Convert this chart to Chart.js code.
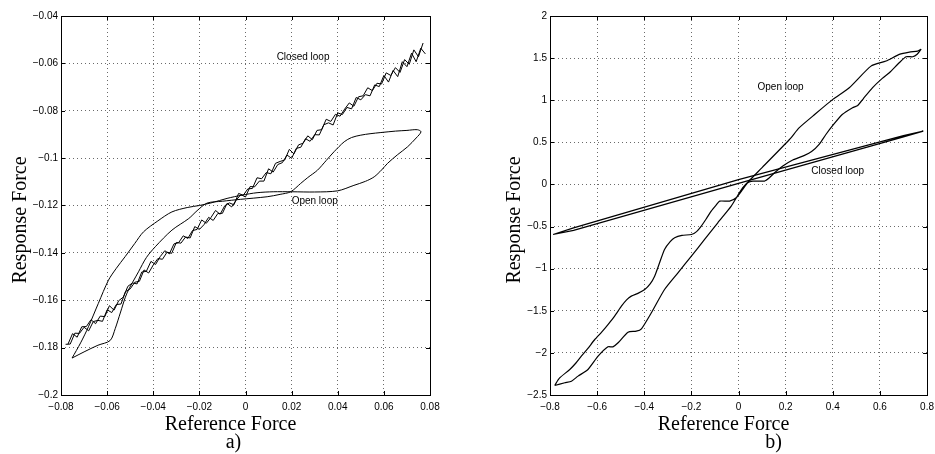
<!DOCTYPE html>
<html><head><meta charset="utf-8">
<script src="https://cdn.jsdelivr.net/npm/chart.js@4.4.1/dist/chart.umd.min.js"></script>
<style>
html,body{margin:0;padding:0;background:#fff;overflow:hidden;width:935px;height:454px;}
canvas{position:absolute;top:0;}
#ca{left:0;} #cb{left:470px;}
</style></head>
<body>
<canvas id="ca" width="470" height="454"></canvas>
<canvas id="cb" width="470" height="454"></canvas>
<script>
// ---------- panel a) ----------
const xTicksA = [-0.08,-0.06,-0.04,-0.02,0,0.02,0.04,0.06,0.08];
const xTickLabelsA = ['\u22120.08','\u22120.06','\u22120.04','\u22120.02','0','0.02','0.04','0.06','0.08'];
const yTicksA = [-0.2,-0.18,-0.16,-0.14,-0.12,-0.1,-0.08,-0.06,-0.04];
const yTickLabelsA = ['\u22120.2','\u22120.18','\u22120.16','\u22120.14','\u22120.12','\u22120.1','\u22120.08','\u22120.06','\u22120.04'];

const closedFwdX = [-0.078,-0.076,-0.074,-0.072,-0.070,-0.068,-0.066,-0.064,-0.062,-0.060,
-0.058,-0.056,-0.054,-0.052,-0.050,-0.048,-0.046,-0.044,-0.042,-0.040,
-0.038,-0.036,-0.034,-0.032,-0.030,-0.028,-0.026,-0.024,-0.022,-0.020,
-0.018,-0.016,-0.014,-0.012,-0.010,-0.008,-0.006,-0.004,-0.002,0.000,
0.002,0.004,0.006,0.008,0.010,0.012,0.014,0.016,0.018,0.020,
0.022,0.024,0.026,0.028,0.030,0.032,0.034,0.036,0.038,0.040,
0.042,0.044,0.046,0.048,0.050,0.052,0.054,0.056,0.058,0.060,
0.062,0.064,0.066,0.068,0.070,0.072,0.074,0.076,0.078];
const closedFwdY = [-0.1786,-0.1785,-0.1739,-0.1740,-0.1714,-0.1729,-0.1690,-0.1685,-0.1689,-0.1640,
-0.1652,-0.1618,-0.1616,-0.1563,-0.1552,-0.1524,-0.1520,-0.1472,-0.1485,-0.1451,
-0.1424,-0.1427,-0.1397,-0.1402,-0.1356,-0.1359,-0.1333,-0.1337,-0.1289,-0.1301,
-0.1281,-0.1250,-0.1263,-0.1234,-0.1233,-0.1191,-0.1206,-0.1177,-0.1154,-0.1164,
-0.1120,-0.1121,-0.1097,-0.1097,-0.1045,-0.1059,-0.1027,-0.1019,-0.0987,-0.1001,
-0.0959,-0.0954,-0.0918,-0.0929,-0.0901,-0.0902,-0.0859,-0.0851,-0.0860,-0.0809,
-0.0816,-0.0786,-0.0792,-0.0744,-0.0754,-0.0732,-0.0737,-0.0691,-0.0698,-0.0651,
-0.0679,-0.0630,-0.0656,-0.0593,-0.0614,-0.0557,-0.0593,-0.0536,-0.0560];
const closedBackX = [0.077,0.075,0.073,0.071,0.069,0.067,0.065,0.063,0.061,0.059,
0.057,0.055,0.053,0.051,0.049,0.047,0.045,0.043,0.041,0.039,
0.037,0.035,0.033,0.031,0.029,0.027,0.025,0.023,0.021,0.019,
0.017,0.015,0.013,0.011,0.009,0.007,0.005,0.003,0.001,-0.001,
-0.003,-0.005,-0.007,-0.009,-0.011,-0.013,-0.015,-0.017,-0.019,-0.021,
-0.023,-0.025,-0.027,-0.029,-0.031,-0.033,-0.035,-0.037,-0.039,-0.041,
-0.043,-0.045,-0.047,-0.049,-0.051,-0.053,-0.055,-0.057,-0.059,-0.061,
-0.063,-0.065,-0.067,-0.069,-0.071,-0.073,-0.075,-0.077];
const closedBackY = [-0.0514,-0.0572,-0.0543,-0.0604,-0.0584,-0.0638,-0.0618,-0.0651,-0.0640,-0.0687,
-0.0684,-0.0715,-0.0703,-0.0737,-0.0741,-0.0781,-0.0767,-0.0793,-0.0823,-0.0815,
-0.0845,-0.0836,-0.0880,-0.0883,-0.0922,-0.0906,-0.0937,-0.0944,-0.0982,-0.0963,
-0.1008,-0.1014,-0.1022,-0.1066,-0.1061,-0.1087,-0.1083,-0.1128,-0.1130,-0.1157,
-0.1149,-0.1197,-0.1189,-0.1201,-0.1237,-0.1221,-0.1251,-0.1275,-0.1261,-0.1301,
-0.1306,-0.1339,-0.1328,-0.1357,-0.1362,-0.1404,-0.1391,-0.1416,-0.1449,-0.1436,
-0.1478,-0.1481,-0.1531,-0.1527,-0.1541,-0.1587,-0.1602,-0.1642,-0.1623,-0.1669,
-0.1667,-0.1699,-0.1682,-0.1711,-0.1712,-0.1756,-0.1741,-0.1786];

const openAX = [-0.0752,-0.0715,-0.0681,-0.0638,-0.0594,-0.0560,-0.0522,-0.0480,-0.0442,-0.0380,
-0.0319,-0.0250,-0.0200,-0.0145,-0.0080,-0.0014,0.0050,0.0120,0.0200,0.0300,
0.0400,0.0470,0.0520,0.0558,0.0590,0.0616,0.0660,0.0703,0.0740,0.0761,
0.0745,0.0700,0.0650,0.0587,0.0540,0.0500,0.0460,0.0428,0.0384,0.0350,
0.0312,0.0270,0.0239,0.0196,0.0150,0.0094,-0.0022,-0.0100,-0.0167,-0.0210,
-0.0246,-0.0319,-0.0391,-0.0430,-0.0464,-0.0514,-0.0543,-0.0565,-0.0587,-0.0640,
-0.0700,-0.0752];
const openAY = [-0.1844,-0.1780,-0.1712,-0.1613,-0.1515,-0.1465,-0.1416,-0.1360,-0.1311,-0.1265,
-0.1227,-0.1208,-0.1200,-0.1188,-0.1170,-0.1156,-0.1146,-0.1142,-0.1142,-0.1143,
-0.1138,-0.1115,-0.1098,-0.1079,-0.1050,-0.1022,-0.0985,-0.0952,-0.0915,-0.0889,
-0.0880,-0.0883,-0.0886,-0.0892,-0.0897,-0.0903,-0.0913,-0.0931,-0.0973,-0.1010,
-0.1051,-0.1082,-0.1107,-0.1142,-0.1153,-0.1163,-0.1174,-0.1182,-0.1190,-0.1222,
-0.1255,-0.1304,-0.1374,-0.1420,-0.1480,-0.1570,-0.1654,-0.1720,-0.1770,-0.1790,
-0.1818,-0.1844];

// ---------- panel b) ----------
const xTicksB = [-0.8,-0.6,-0.4,-0.2,0,0.2,0.4,0.6,0.8];
const xTickLabelsB = ['\u22120.8','\u22120.6','\u22120.4','\u22120.2','0','0.2','0.4','0.6','0.8'];
const yTicksB = [-2.5,-2,-1.5,-1,-0.5,0,0.5,1,1.5,2];
const yTickLabelsB = ['\u22122.5','\u22122','\u22121.5','\u22121','\u22120.5','0','0.5','1','1.5','2'];

const closedBX = [-0.787,-0.700,0.000,0.700,0.784,0.700,0.000,-0.700,-0.787];
const closedBY = [-0.594,-0.545,0.012,0.565,0.633,0.580,0.058,-0.515,-0.594];

const openBX = [-0.780,-0.760,-0.716,-0.690,-0.667,-0.640,-0.610,-0.580,-0.554,-0.525,
-0.497,-0.475,-0.455,-0.425,-0.398,-0.375,-0.356,-0.335,-0.314,-0.290,
-0.271,-0.240,-0.200,-0.178,-0.158,-0.135,-0.116,-0.095,-0.080,-0.038,
-0.010,0.018,0.039,0.061,0.110,0.131,0.153,0.188,0.230,0.280,
0.310,0.343,0.370,0.400,0.440,0.484,0.506,0.530,0.569,0.610,
0.640,0.682,0.711,0.739,0.758,0.774,
0.760,0.725,0.682,0.626,0.562,0.470,0.400,0.315,0.258,0.216,
0.100,0.018,-0.031,-0.088,-0.144,-0.200,-0.257,-0.314,-0.370,-0.412,
-0.434,-0.469,-0.511,-0.533,-0.554,-0.596,-0.639,-0.681,-0.709,-0.737,
-0.780];
const openBY = [-2.387,-2.300,-2.197,-2.120,-2.039,-1.950,-1.841,-1.750,-1.663,-1.560,
-1.445,-1.370,-1.326,-1.290,-1.247,-1.180,-1.089,-0.930,-0.772,-0.680,
-0.633,-0.605,-0.594,-0.560,-0.495,-0.400,-0.317,-0.245,-0.198,-0.198,
-0.158,-0.059,0.020,0.040,0.040,0.079,0.139,0.218,0.290,0.345,
0.390,0.480,0.590,0.700,0.830,0.911,0.938,1.020,1.150,1.260,
1.326,1.445,1.516,1.516,1.545,1.603,
1.583,1.572,1.544,1.465,1.405,1.148,1.010,0.811,0.674,0.534,
0.200,-0.039,-0.258,-0.455,-0.653,-0.851,-1.049,-1.247,-1.524,-1.714,
-1.742,-1.754,-1.880,-1.928,-1.928,-2.039,-2.197,-2.276,-2.336,-2.355,
-2.387];

const zip = (xs, ys) => xs.map((x, i) => ({x, y: ys[i]}));

const deco = {
  id: 'deco',
  afterDraw(chart, args, o) {
    const ctx = chart.ctx, a = chart.chartArea, xs = chart.scales.x, ys = chart.scales.y;
    ctx.save();
    ctx.strokeStyle = '#000'; ctx.lineWidth = 1;
    ctx.strokeRect(Math.round(a.left) + 0.5, Math.round(a.top) + 0.5, Math.round(a.right - a.left), Math.round(a.bottom - a.top));
    ctx.beginPath();
    o.xt.forEach(v => {
      const p = Math.round(xs.getPixelForValue(v)) + 0.5;
      ctx.moveTo(p, a.bottom); ctx.lineTo(p, a.bottom - 4);
      ctx.moveTo(p, a.top); ctx.lineTo(p, a.top + 4);
    });
    o.yt.forEach(v => {
      const p = Math.round(ys.getPixelForValue(v)) + 0.5;
      ctx.moveTo(a.left, p); ctx.lineTo(a.left + 4, p);
      ctx.moveTo(a.right, p); ctx.lineTo(a.right - 4, p);
    });
    ctx.stroke();
    ctx.fillStyle = '#000';
    ctx.font = '10px "Liberation Sans", Arial, sans-serif';
    ctx.textAlign = 'left'; ctx.textBaseline = 'middle';
    o.notes.forEach(n => ctx.fillText(n.text, xs.getPixelForValue(n.x), ys.getPixelForValue(n.y)));
    ctx.font = '20px "Liberation Serif", "Times New Roman", serif';
    ctx.textAlign = 'center'; ctx.textBaseline = 'alphabetic';
    const cx = (a.left + a.right) / 2;
    ctx.fillText(o.xlabel, cx + o.xlabelDx, 430);
    ctx.fillText(o.tag, cx + o.tagDx, 448);
    ctx.translate(o.ylabelX, 220);
    ctx.rotate(-Math.PI / 2);
    ctx.fillText(o.ylabel, 0, 0);
    ctx.restore();
  }
};

function makeChart(id, cfg) {
  const tickFont = {family: '"Liberation Sans", Arial, sans-serif', size: 10};
  return new Chart(document.getElementById(id), {
    type: 'scatter',
    data: {datasets: cfg.datasets},
    options: {
      responsive: false, animation: false, devicePixelRatio: 1,
      layout: {padding: {left: 0, top: 16, right: cfg.padRight, bottom: 0}},
      plugins: {legend: {display: false}, tooltip: {enabled: false}, deco: cfg.deco},
      scales: {
        x: {
          type: 'linear', min: cfg.xt[0], max: cfg.xt[cfg.xt.length - 1],
          afterBuildTicks: s => { s.ticks = cfg.xt.map(v => ({value: v})); },
          afterFit: s => { s.height = 59; },
          ticks: {autoSkip: false, maxRotation: 0, padding: 6, color: '#000', font: tickFont,
                  callback: (v, i) => cfg.xl[i]},
          grid: {color: '#6a6a6a', lineWidth: 1, drawTicks: false},
          border: {display: false, dash: [1, 3]}
        },
        y: {
          type: 'linear', min: cfg.yt[0], max: cfg.yt[cfg.yt.length - 1],
          afterBuildTicks: s => { s.ticks = cfg.yt.map(v => ({value: v})); },
          afterFit: s => { s.width = cfg.yWidth; },
          ticks: {autoSkip: false, padding: 3, color: '#000', font: tickFont,
                  callback: (v, i) => cfg.yl[i]},
          grid: {color: '#6a6a6a', lineWidth: 1, drawTicks: false},
          border: {display: false, dash: [1, 3]}
        }
      }
    },
    plugins: [deco]
  });
}

const lineDs = (data, w, t) => ({data, showLine: true, pointRadius: 0, borderColor: '#000',
  backgroundColor: '#000', borderWidth: w, tension: t, fill: false});

makeChart('ca', {
  padRight: 40, yWidth: 61,
  xt: xTicksA, xl: xTickLabelsA, yt: yTicksA, yl: yTickLabelsA,
  datasets: [
    lineDs(zip(closedFwdX, closedFwdY), 1, 0),
    lineDs(zip(closedBackX, closedBackY), 1, 0),
    lineDs(zip(openAX, openAY), 1, 0.3)
  ],
  deco: {xt: xTicksA, yt: yTicksA, xlabel: 'Reference Force', xlabelDx: -15, tag: 'a)', tagDx: -12,
    ylabel: 'Response Force', ylabelX: 26,
    notes: [{text: 'Closed loop', x: 0.0135, y: -0.0574}, {text: 'Open loop', x: 0.020, y: -0.1181}]}
});

makeChart('cb', {
  padRight: 12, yWidth: 80,
  xt: xTicksB, xl: xTickLabelsB, yt: yTicksB, yl: yTickLabelsB,
  datasets: [
    lineDs(zip(closedBX, closedBY), 1.2, 0),
    lineDs(zip(openBX, openBY), 1.2, 0.2)
  ],
  deco: {xt: xTicksB, yt: yTicksB, xlabel: 'Reference Force', xlabelDx: -15, tag: 'b)', tagDx: 35,
    ylabel: 'Response Force', ylabelX: 50,
    notes: [{text: 'Open loop', x: 0.0805, y: 1.152}, {text: 'Closed loop', x: 0.309, y: 0.154}]}
});
</script>
</body></html>
